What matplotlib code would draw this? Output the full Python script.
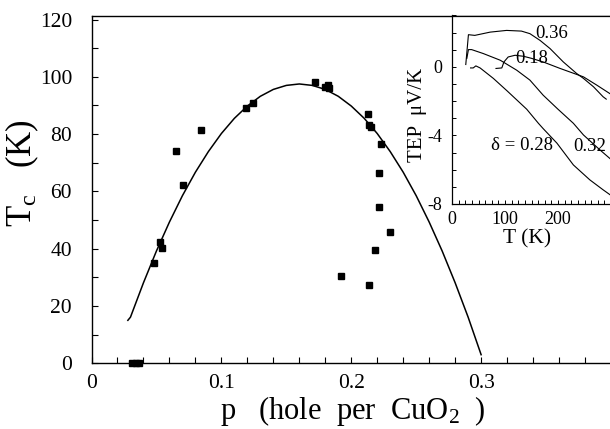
import matplotlib
matplotlib.use("Agg")
import matplotlib.pyplot as plt
from matplotlib.ticker import MultipleLocator

plt.rcParams['font.family'] = ['Liberation Serif', 'DejaVu Serif']
plt.rcParams['mathtext.fontset'] = 'custom'
plt.rcParams['mathtext.rm'] = 'Liberation Serif'
plt.rcParams['mathtext.it'] = 'Liberation Serif:italic'
plt.rcParams['axes.unicode_minus'] = False

# ---------------- main panel data ----------------
curve_p = [0.028, 0.03, 0.04, 0.05, 0.06, 0.07, 0.08, 0.09, 0.10, 0.11, 0.12, 0.13, 0.14, 0.15,
           0.16, 0.17, 0.18, 0.19, 0.20, 0.21, 0.22, 0.23, 0.24, 0.25, 0.26, 0.27, 0.28, 0.29, 0.30]
curve_tc = [15.0, 16.1, 28.1, 39.2, 49.3, 58.5, 66.7, 73.9, 80.2, 85.5, 89.8, 93.2, 95.6, 97.0,
            97.5, 97.0, 95.6, 93.2, 89.8, 85.5, 80.2, 73.9, 66.7, 58.5, 49.3, 39.2, 28.1, 16.1, 3.0]

pts_p = [0.0315, 0.0345, 0.0365, 0.0482, 0.0528, 0.0546, 0.0651, 0.0707, 0.0841, 0.1188, 0.1247,
         0.172, 0.180, 0.182, 0.183, 0.192, 0.213, 0.214, 0.215, 0.2184, 0.221, 0.2217, 0.223, 0.230, 0.214]
pts_tc = [0.0, 0.0, 0.0, 34.9, 42.2, 40.1, 74.1, 62.2, 81.4, 89.0, 90.7,
          98.3, 96.5, 97.3, 96.0, 30.5, 86.9, 83.1, 82.6, 39.5, 54.4, 66.3, 76.5, 45.7, 27.3]

x_ticks = [0, 0.1, 0.2, 0.3]
x_ticklabels = ['0', '0.1', '0.2', '0.3']
y_ticks = [0, 20, 40, 60, 80, 100, 120]

# ---------------- inset data (TEP vs T) ----------------
T_036 = [26, 31, 43, 72, 103, 131, 147, 166, 185, 210, 235, 248, 267, 285, 291]
S_036 = [0.14, 1.88, 1.84, 2.03, 2.13, 2.09, 1.94, 1.55, 1.07, 0.29, -0.38, -0.67, -1.16, -1.74, -1.88]

T_032 = [28, 31, 37, 59, 91, 122, 147, 172, 200, 229, 248, 279, 300]
S_032 = [0.5, 1.01, 1.01, 0.78, 0.39, -0.19, -0.77, -1.65, -2.47, -3.29, -3.97, -4.84, -5.4]

T_028 = [35, 40, 45, 53, 78, 104, 141, 163, 172, 198, 229, 260, 285, 300]
S_028 = [-0.06, -0.06, 0.06, -0.06, -0.67, -1.4, -2.47, -3.29, -3.6, -4.45, -5.72, -6.59, -7.17, -7.5]

T_018 = [83, 94, 98, 106, 119, 135, 150, 172, 204, 248, 273, 300]
S_018 = [-0.09, -0.06, 0.29, 0.58, 0.68, 0.62, 0.5, 0.29, -0.09, -0.58, -1.06, -1.6]

inset_labels = ['0.36', '0.18', 'δ = 0.28', '0.32']
inset_label_T = [188, 151, 133, 259]
inset_label_S = [1.94, 0.5, -4.6, -4.65]

# ---------------- figure ----------------
W, H = 610, 429
fig = plt.figure(figsize=(W / 100, H / 100), dpi=100)

def fx(px):
    return px / W

def fy(py):
    return 1 - py / H

ax_l, ax_r, ax_t, ax_b = 91.5, 611.0, 15.5, 363.3
ax = fig.add_axes([fx(ax_l), fy(ax_b), fx(ax_r - ax_l), (ax_b - ax_t) / H])
ax.plot(curve_p, curve_tc, color='black', lw=1.1)
ax.plot(pts_p, pts_tc, linestyle='none', marker='s', ms=4.8, color='black', clip_on=False)
ax.set_xlim(0, 0.4)
ax.set_ylim(0, 121.4)
ax.set_xticks(x_ticks)
ax.set_xticklabels(x_ticklabels)
ax.set_yticks(y_ticks)
ax.xaxis.set_minor_locator(MultipleLocator(0.02))
ax.yaxis.set_minor_locator(MultipleLocator(10))
ax.tick_params(which='both', direction='in', length=4, width=0.8, top=False, right=False)
ax.tick_params(axis='y', which='major', labelsize=15.5, pad=14)
ax.tick_params(axis='x', which='major', labelsize=15.5, pad=8)
for s in ['left', 'bottom', 'top']:
    ax.spines[s].set_linewidth(1.0)
ax.spines['right'].set_visible(False)

fig.text(fx(353), fy(419.5), r'p   (hole  per  CuO$_2$  )', fontsize=22, ha='center', va='baseline')
fig.text(fx(22), fy(173), r'T$_{\mathrm{c}}$   (K)', fontsize=25, ha='center', va='center', rotation=90)

# inset
in_l, in_r, in_t, in_b = 452.0, 611.0, 15.5, 204.0
ins = fig.add_axes([fx(in_l), fy(in_b), fx(in_r - in_l), (in_b - in_t) / H])
ins.set_facecolor('white')
for T, S in [(T_036, S_036), (T_032, S_032), (T_028, S_028), (T_018, S_018)]:
    ins.plot(T, S, color='black', lw=0.8)
ins.set_xlim(0, 300)
ins.set_ylim(-8, 3)
ins.set_xticks([0, 100, 200])
ins.set_yticks([-8, -4, 0])
ins.set_yticklabels(['-8', '-4', '0'])
ins.xaxis.set_minor_locator(MultipleLocator(12.5))
ins.yaxis.set_minor_locator(MultipleLocator(1))
ins.tick_params(which='both', direction='in', length=3, width=0.7)
ins.tick_params(axis='both', which='major', labelsize=13)
ins.tick_params(axis='y', which='major', pad=7)
ins.tick_params(axis='x', which='major', pad=5)
ins.spines['right'].set_visible(False)
for s in ['left', 'bottom', 'top']:
    ins.spines[s].set_linewidth(0.9)
for lab, t, s in zip(inset_labels, inset_label_T, inset_label_S):
    ins.text(t, s, lab, fontsize=13.5, ha='center', va='center')
fig.text(fx(417), fy(115), 'TEP  μV/K', fontsize=15, ha='center', va='center', rotation=90)
fig.text(fx(527), fy(239), 'T (K)', fontsize=15.5, ha='center', va='center')

fig.savefig('out.png', dpi=100)
